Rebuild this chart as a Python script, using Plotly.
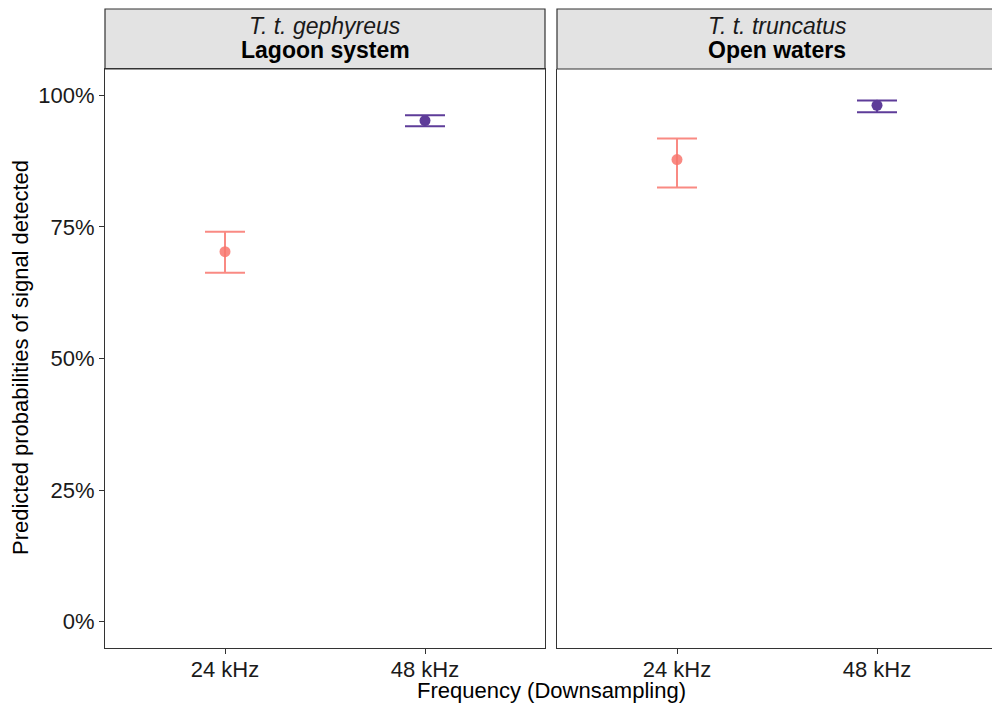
import plotly.graph_objects as go

# ---- data ----
panels = ["Lagoon system", "Open waters"]
subspecies = ["T. t. gephyreus", "T. t. truncatus"]
frequencies = ["24 kHz", "48 kHz"]
lagoon_pred = [0.703, 0.952]
lagoon_low = [0.663, 0.941]
lagoon_high = [0.741, 0.962]
open_pred = [0.878, 0.981]
open_low = [0.825, 0.968]
open_high = [0.918, 0.990]
y_tickvals = [0, 0.25, 0.5, 0.75, 1.0]
y_ticktext = ["0%", "25%", "50%", "75%", "100%"]

colors = ["rgba(248,118,109,0.85)", "rgba(94,60,153,1)"]
FONT = "Liberation Sans, Arial, sans-serif"
W, H = 992, 706
ML, MR, MT, MB = 105, 0, 9, 58
PW = W - ML - MR
PH = H - MT - MB

def px_x(p):
    return (p - ML) / PW

def px_y(p):
    return (H - MB - p) / PH

fig = go.Figure()

series = [(lagoon_pred, lagoon_low, lagoon_high, "x", "y"),
          (open_pred, open_low, open_high, "x2", "y2")]
for pred, low, high, xa, ya in series:
    for i, f in enumerate(frequencies):
        fig.add_trace(go.Scatter(
            x=[i + 1], y=[pred[i]], xaxis=xa, yaxis=ya, mode="markers",
            marker=dict(size=11, color=colors[i]),
            error_y=dict(type="data", symmetric=False,
                         array=[high[i] - pred[i]], arrayminus=[pred[i] - low[i]],
                         color=colors[i], thickness=2, width=20),
            showlegend=False, hoverinfo="skip"))

panel_top = px_y(69)
x1_dom = [0, px_x(545)]
x2_dom = [px_x(557), 1.0]

axis_common = dict(showgrid=False, zeroline=False, linecolor="#333333", linewidth=1.2,
                   ticks="outside", ticklen=5, tickcolor="#333333", tickwidth=1.2,
                   tickfont=dict(family=FONT, size=22, color="#1a1a1a"))

fig.update_layout(
    width=W, height=H, margin=dict(l=ML, r=MR, t=MT, b=MB),
    paper_bgcolor="white", plot_bgcolor="white",
    xaxis=dict(domain=x1_dom, range=[0.4, 2.6], tickvals=[1, 2], ticktext=frequencies,
               showline=True, mirror=True, anchor="y", ticklabelstandoff=-4, **axis_common),
    yaxis=dict(domain=[0, panel_top], range=[-0.05, 1.05], tickvals=y_tickvals,
               ticktext=y_ticktext, showline=True, mirror=True, anchor="x", **axis_common),
    xaxis2=dict(domain=x2_dom, range=[0.4, 0.4 + (992 - 557) / 200.0], tickvals=[1, 2],
                ticktext=frequencies, showline=True, mirror=False, anchor="y2",
                ticklabelstandoff=-4, **axis_common),
    yaxis2=dict(domain=[0, panel_top], range=[-0.05, 1.05], tickvals=y_tickvals,
                showticklabels=False, showline=True, mirror=False, anchor="x2",
                showgrid=False, zeroline=False, linecolor="#333333", linewidth=1.2, ticks=""),
)

# strips
strip_bottom = panel_top
for dom, sp, pn in [(x1_dom, subspecies[0], panels[0]), (x2_dom, subspecies[1], panels[1])]:
    x1 = dom[1] if dom[1] < 1 else 1.01
    fig.add_shape(type="rect", xref="paper", yref="paper", x0=dom[0], x1=x1,
                  y0=strip_bottom, y1=1.0, fillcolor="#E3E3E3",
                  line=dict(color="#333333", width=1.2), layer="below")
    cx = (dom[0] + (px_x(998) if dom[1] >= 1 else dom[1])) / 2
    fig.add_annotation(x=cx, y=px_y(26), xref="paper", yref="paper", showarrow=False,
                       text="<i>" + sp + "</i>", xanchor="center", yanchor="middle",
                       font=dict(family=FONT, size=23, color="#1a1a1a"))
    fig.add_annotation(x=cx, y=px_y(50), xref="paper", yref="paper", showarrow=False,
                       text="<b>" + pn + "</b>", xanchor="center", yanchor="middle",
                       font=dict(family=FONT, size=23, color="#000000"))

# axis titles
fig.add_annotation(x=px_x(551), y=px_y(690), xref="paper", yref="paper", showarrow=False,
                   text="Frequency (Downsampling)", xanchor="center", yanchor="middle",
                   font=dict(family=FONT, size=22, color="#000000"))
fig.add_annotation(x=px_x(20), y=px_y(358), xref="paper", yref="paper", showarrow=False,
                   text="Predicted probabilities of signal detected", textangle=-90,
                   xanchor="center", yanchor="middle",
                   font=dict(family=FONT, size=22, color="#000000"))

fig.write_html("out.html")
